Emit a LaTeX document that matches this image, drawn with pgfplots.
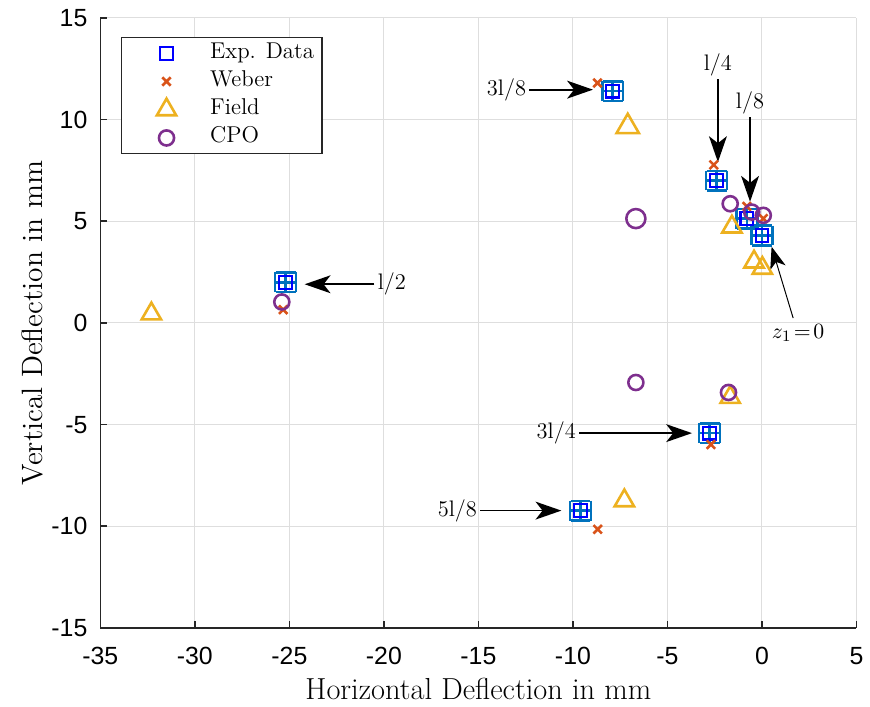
\documentclass[border=0pt]{standalone}
\usepackage{fontspec}
\usepackage{pgfplots}
\pgfplotsset{compat=1.18}
\usetikzlibrary{arrows.meta}
\newfontfamily\tickfont{Liberation Sans}
\definecolor{expblue}{RGB}{0,0,255}
\definecolor{errblue}{RGB}{0,114,189}
\definecolor{weber}{RGB}{217,83,25}
\definecolor{field}{RGB}{237,177,32}
\definecolor{cpo}{RGB}{126,47,142}
\definecolor{axgray}{RGB}{38,38,38}
\pgfplotstableread{
x y ex ey
-7.9 11.4 0.55 0.48
-2.4 7.0 0.55 0.48
-0.8 5.13 0.55 0.48
0.0 4.3 0.55 0.48
-25.2 2.0 0.55 0.48
-2.77 -5.42 0.55 0.48
-9.6 -9.23 0.55 0.48
}\expdata
\pgfplotstableread{
x y
-8.7 11.8
-2.55 7.77
-0.8 5.73
0.07 5.13
-25.33 0.65
-2.7 -5.98
-8.69 -10.15
}\weber
\pgfplotstableread{
x y
-1.59 4.72
-0.42 3.0
0.02 2.69
-32.3 0.45
-1.68 -3.66
-7.28 -8.74
}\field
\pgfplotstableread{
x y
-1.68 5.86
-0.54 5.45
0.07 5.29
-25.4 1.03
-6.67 -2.93
-1.77 -3.42
}\cpo
\begin{document}
\begin{tikzpicture}
\begin{axis}[name=ax, scale only axis, width=380.5pt, height=307pt,
  xmin=-35, xmax=5, ymin=-15, ymax=15,
  axis x line*=bottom, axis y line*=left,
  axis line style={axgray, line width=0.8pt, -},
  xtick={-35,-30,...,5}, xticklabels={-35,-30,-25,-20,-15,-10,-5,0,5},
  ytick={-15,-10,...,15}, yticklabels={-15,-10,-5,0,5,10,15},
  ticklabel style={font=\fontsize{12.5}{14}\tickfont, text=black},
  xticklabel style={anchor=center, yshift=-14pt},
  yticklabel style={xshift=-3pt},
  tick align=inside, major tick length=3.5pt, tick style={axgray, line width=0.8pt},
  grid=major, grid style={black!13, line width=0.5pt},
  xlabel={Horizontal Deflection in mm}, ylabel={Vertical Deflection in mm},
  xlabel style={font=\fontsize{15.3}{17}\selectfont, at={(axis description cs:0.5,-0.0994)}, anchor=center},
  ylabel style={font=\fontsize{14.8}{17}\selectfont, at={(axis description cs:-0.09,0.5)}, anchor=center},
  legend style={at={(0.0276,0.969)}, anchor=north west, draw=axgray, line width=0.6pt,
    fill=white, font=\fontsize{11.5}{13}\selectfont, row sep=1.2pt, column sep=0pt,
    inner xsep=4pt, inner ysep=1.5pt,
    nodes={inner sep=0pt, text height=9pt, text depth=4pt}},
  legend cell align=left,
  leg/.style={legend image code/.code={\path[draw=none,fill=none] (-18.5pt,0pt) (22pt,0pt); \draw[##1] plot coordinates {(0pt,0pt)};}},
]
\addplot[forget plot, draw=none, mark=none,
  error bars/.cd, x dir=both, x explicit, y dir=both, y explicit,
  error bar style={errblue, line width=1.3pt},
  error mark options={rotate=90, errblue, line width=1.3pt, mark size=5pt}]
  table[x=x, y=y, x error=ex, y error=ey] {\expdata};
\addplot[only marks, mark=square, mark size=3.2pt, expblue, line width=1.1pt, leg] table[x=x,y=y] {\expdata};
\addlegendentry{Exp. Data}
\addplot[only marks, mark=x, mark size=3pt, weber, line width=1.3pt, leg] table {\weber};
\addlegendentry{Weber}
\addplot[only marks, mark=triangle, mark size=5.6pt, field, line width=1.3pt, leg] table {\field};
\addlegendentry{Field}
\addplot[only marks, mark=o, mark size=3.8pt, cpo, line width=1.3pt, leg] table {\cpo};
\addlegendentry{CPO}
\addplot[forget plot, only marks, mark=triangle, mark size=6.5pt, field, line width=1.3pt] coordinates {(-7.1,9.65)};
\addplot[forget plot, only marks, mark=o, mark size=4.8pt, cpo, line width=1.3pt] coordinates {(-6.67,5.13)};
% annotations
\tikzset{arr/.style={-{Stealth[length=13pt,width=9pt,inset=3.5pt]}, line width=0.85pt, black},
  lab/.style={font=\fontsize{11.3}{13}\selectfont, inner sep=1.5pt}}
\draw[arr] (axis cs:-12.3,11.47) -- (axis cs:-8.94,11.47);
\node[lab, anchor=east] at (axis cs:-12.3,11.47) {3l/8};
\draw[arr] (axis cs:-2.33,11.97) -- (axis cs:-2.33,7.91);
\node[lab, anchor=south] at (axis cs:-2.33,11.97) {l/4};
\draw[arr] (axis cs:-0.63,10.11) -- (axis cs:-0.63,5.96);
\node[lab, anchor=south] at (axis cs:-0.63,10.11) {l/8};
\draw[arr] (axis cs:-20.5,1.9) -- (axis cs:-24.19,1.9);
\node[lab, anchor=west] at (axis cs:-20.5,1.9) {l/2};
\draw[arr] (axis cs:-9.67,-5.42) -- (axis cs:-3.7,-5.42);
\node[lab, anchor=east] at (axis cs:-9.67,-5.42) {3l/4};
\draw[arr] (axis cs:-14.9,-9.23) -- (axis cs:-10.61,-9.23);
\node[lab, anchor=east] at (axis cs:-14.9,-9.23) {5l/8};
\draw[-{Stealth[length=11pt,width=8pt,inset=3pt]}, line width=0.5pt] (axis cs:1.65,0.24) -- (axis cs:0.51,3.75);
\node[lab] at (axis cs:1.91,-0.49) {$z_1\!=\!0$};
\end{axis}
\path (ax.south west) ++(-50.5pt,-38.5pt) rectangle ++(435pt,354.5pt);
\end{tikzpicture}
\end{document}
